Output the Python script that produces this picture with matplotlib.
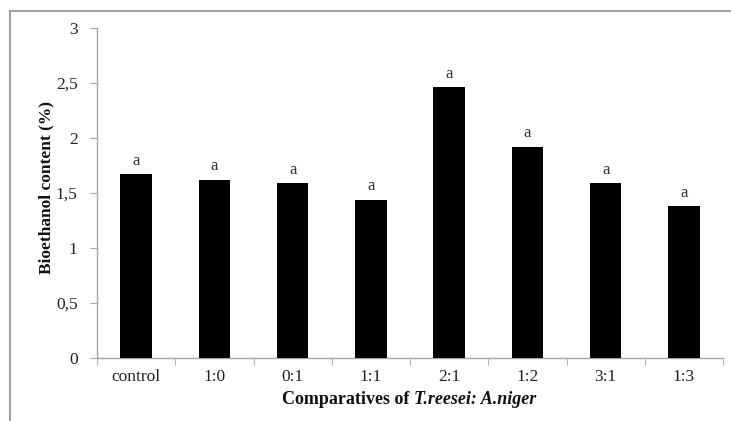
import matplotlib
matplotlib.use("Agg")
import matplotlib.pyplot as plt
from matplotlib.lines import Line2D
import numpy as np

categories = ["control", "1:0", "0:1", "1:1", "2:1", "1:2", "3:1", "1:3"]
values = [1.67, 1.62, 1.59, 1.44, 2.46, 1.92, 1.59, 1.38]
letters = ["a", "a", "a", "a", "a", "a", "a", "a"]
yticks = [0, 0.5, 1, 1.5, 2, 2.5, 3]
ytick_labels = ["0", "0,5", "1", "1,5", "2", "2,5", "3"]

plt.rcParams['font.family'] = ['Liberation Serif', 'DejaVu Serif']

fig = plt.figure(figsize=(7.31, 4.21), dpi=100)
ax = fig.add_axes([97/731, 1-358/421, (723-97)/731, (358-28)/421])

x = np.arange(len(categories))
ax.bar(x, values, width=0.40, color='black', zorder=3)
for xi, v, l in zip(x, values, letters):
    ax.annotate(l, (xi, v), xytext=(0, 4), textcoords='offset points',
                ha='center', va='bottom', fontsize=12, color='#333333')

ax.set_xlim(-0.5, len(categories) - 0.5)
ax.set_ylim(0, 3)
ax.set_yticks(yticks)
ax.set_yticklabels(ytick_labels)
ax.set_xticks(x)
ax.set_xticklabels(categories)
ax.set_xticks(np.arange(-0.5, len(categories), 1.0), minor=True)
ax.tick_params(axis='x', which='major', length=0, pad=8, labelsize=12.5, labelcolor='#222222')
ax.tick_params(axis='x', which='minor', length=5, color='#a6a6a6', direction='out')
ax.tick_params(axis='y', length=5, color='#a6a6a6', direction='out', pad=9,
               labelsize=12.5, labelcolor='#222222')

for s in ['top', 'right']:
    ax.spines[s].set_visible(False)
for s in ['left', 'bottom']:
    ax.spines[s].set_color('#a6a6a6')
    ax.spines[s].set_linewidth(1.0)

ax.set_ylabel("Bioethanol content (%)", fontsize=12.5, fontweight='bold', color='#111111')
ax.yaxis.set_label_coords(-43/626, 0.518)

# x label with mixed bold / bold-italic
fig.canvas.draw()
renderer = fig.canvas.get_renderer()
ylab = 1 - 400/421
t1 = fig.text(0, ylab, "Comparatives of ", fontsize=13, fontweight='bold',
              ha='left', va='center', color='#111111')
t2 = fig.text(0, ylab, "T.reesei: A.niger", fontsize=13, fontweight='bold',
              style='italic', ha='left', va='center', color='#111111')
w1 = t1.get_window_extent(renderer).width / 731
w2 = t2.get_window_extent(renderer).width / 731
cx = 409 / 731
x0 = cx - (w1 + w2) / 2
t1.set_x(x0)
t2.set_x(x0 + w1)

# outer frame
fig.add_artist(Line2D([10/731, 10/731], [0, 1 - 11/421], transform=fig.transFigure,
                      color='#a0a0a0', lw=1.5))
fig.add_artist(Line2D([10/731, 1], [1 - 11/421, 1 - 11/421], transform=fig.transFigure,
                      color='#a0a0a0', lw=1.5))

fig.savefig("out.png", dpi=100)
